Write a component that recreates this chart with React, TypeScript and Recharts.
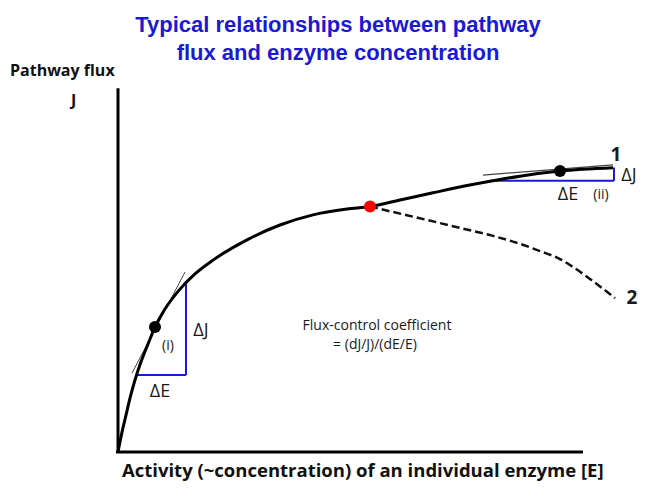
import { LineChart, Line, XAxis, YAxis, ReferenceLine, ReferenceDot } from 'recharts';

// curve 1: flux vs enzyme activity (saturating)
const curve1E = [0, 0.8, 1.6, 2.4, 3.4, 4.6, 6.0, 7.4, 9.4, 12.4, 15.4, 19.0, 25.8, 32.4, 39.0, 45.8, 50.4, 56.4, 63.0, 69.8, 76.4, 80.4, 88.4, 99.0];
const curve1J = [0, 5.5, 10.2, 14.9, 19.9, 24.9, 29.8, 34.5, 39.5, 45.0, 49.2, 53.0, 58.6, 62.7, 65.5, 67.1, 67.8, 69.6, 71.6, 73.6, 75.3, 76.2, 77.6, 78.5];

// curve 2: branches off at the red point and falls
const curve2E = [50.4, 55.0, 61.8, 68.4, 75.0, 80.4, 84.4, 88.4, 91.0, 94.4, 99.4];
const curve2J = [67.8, 66.3, 64.1, 61.9, 59.7, 57.5, 55.5, 53.3, 51.1, 47.8, 42.5];

const curve1 = curve1E.map((e, i) => ({ e, j: curve1J[i] }));
const curve2 = curve2E.map((e, i) => ({ e, j: curve2J[i] }));

const blue = '#1a1ad6';
const font = 'Liberation Sans, Arial, sans-serif';
const calibri = 'Open Sans, sans-serif';

const txt = (value: string, size: number, bold = false, family = calibri) => ({
  value,
  position: 'center' as const,
  fill: '#1a1a1a',
  fontSize: size,
  fontWeight: bold ? 700 : 400,
  fontFamily: family,
});

export default function App() {
  return (
    <div style={{ position: 'relative', width: 645, height: 480 }}>
      <div
        style={{
          position: 'absolute',
          left: 30,
          width: 600,
          top: 3,
          textAlign: 'center',
          color: blue,
          fontFamily: font,
          fontWeight: 700,
          fontSize: 22,
          lineHeight: '28px',
        }}
      >
        Typical relationships between pathway
        <br />
        flux and enzyme concentration
      </div>
      <div
        style={{
          position: 'absolute',
          left: 2,
          top: 51,
          fontFamily: calibri,
          fontWeight: 700,
          fontSize: 16,
          color: '#111',
          lineHeight: '22px',
        }}
      >
        Pathway flux
      </div>
      <div
        style={{
          position: 'absolute',
          left: 63,
          top: 81,
          fontFamily: calibri,
          fontWeight: 700,
          fontSize: 16,
          color: '#111',
        }}
      >
        J
      </div>
      <div
        style={{
          position: 'absolute',
          left: 114,
          top: 449,
          fontFamily: calibri,
          fontWeight: 700,
          fontSize: 18.5,
          color: '#111',
          whiteSpace: 'nowrap',
        }}
      >
        Activity (~concentration) of an individual enzyme [E]
      </div>
      <LineChart width={645} height={480} margin={{ top: 82, right: 35, bottom: 36, left: 110 }}>
        <XAxis type="number" dataKey="e" domain={[0, 100]} hide allowDataOverflow />
        <YAxis type="number" dataKey="j" domain={[0, 100]} hide allowDataOverflow />

        {/* axes */}
        <ReferenceLine segment={[{ x: 0, y: 0 }, { x: 0, y: 100.5 }]} stroke="#000" strokeWidth={3} ifOverflow="visible" />
        <ReferenceLine segment={[{ x: -0.4, y: 0 }, { x: 93, y: 0 }]} stroke="#000" strokeWidth={3} ifOverflow="visible" />

        {/* tangents */}
        <ReferenceLine segment={[{ x: 2.8, y: 21.8 }, { x: 13.4, y: 49.7 }]} stroke="#444" strokeWidth={1} ifOverflow="visible" />
        <ReferenceLine segment={[{ x: 73, y: 76.5 }, { x: 99, y: 79.3 }]} stroke="#444" strokeWidth={1.2} ifOverflow="visible" />

        {/* ΔE / ΔJ triangles */}
        <ReferenceLine segment={[{ x: 3.6, y: 21.3 }, { x: 13.6, y: 21.3 }]} stroke={blue} strokeWidth={2} ifOverflow="visible" />
        <ReferenceLine segment={[{ x: 13.6, y: 21.3 }, { x: 13.6, y: 46.7 }]} stroke={blue} strokeWidth={2} ifOverflow="visible" />
        <ReferenceLine segment={[{ x: 74.4, y: 74.9 }, { x: 99.2, y: 74.9 }]} stroke={blue} strokeWidth={2} ifOverflow="visible" />
        <ReferenceLine segment={[{ x: 99.2, y: 74.9 }, { x: 99.2, y: 78.6 }]} stroke={blue} strokeWidth={2} ifOverflow="visible" />

        <Line data={curve2} dataKey="j" type="monotone" stroke="#111" strokeWidth={2.5} strokeDasharray="8 4" dot={false} isAnimationActive={false} />
        <Line data={curve1} dataKey="j" type="monotone" stroke="#000" strokeWidth={3} dot={false} isAnimationActive={false} />

        <ReferenceDot x={7.4} y={34.5} r={6} fill="#000" stroke="none" ifOverflow="visible" />
        <ReferenceDot x={50.4} y={67.8} r={6} fill="#f00" stroke="none" ifOverflow="visible" />
        <ReferenceDot x={88.4} y={77.6} r={6} fill="#000" stroke="none" ifOverflow="visible" />

        {/* annotations */}
        <ReferenceDot x={16.6} y={33.7} r={0} ifOverflow="visible" label={txt('ΔJ', 18)} />
        <ReferenceDot x={10} y={29.6} r={0} ifOverflow="visible" label={txt('(i)', 14)} />
        <ReferenceDot x={8.4} y={16.9} r={0} ifOverflow="visible" label={txt('ΔE', 18)} />
        <ReferenceDot x={90} y={71.5} r={0} ifOverflow="visible" label={txt('ΔE', 18)} />
        <ReferenceDot x={96.6} y={71.3} r={0} ifOverflow="visible" label={txt('(ii)', 14)} />
        <ReferenceDot x={102.2} y={76.5} r={0} ifOverflow="visible" label={txt('ΔJ', 18)} />
        <ReferenceDot x={99.6} y={82.3} r={0} ifOverflow="visible" label={txt('1', 19, true)} />
        <ReferenceDot x={102.8} y={42.8} r={0} ifOverflow="visible" label={txt('2', 19, true)} />
        <ReferenceDot x={51.8} y={35.1} r={0} ifOverflow="visible" label={txt('Flux-control coefficient', 14)} />
        <ReferenceDot x={51.4} y={29.8} r={0} ifOverflow="visible" label={txt('= (dJ/J)/(dE/E)', 14)} />
      </LineChart>
    </div>
  );
}
